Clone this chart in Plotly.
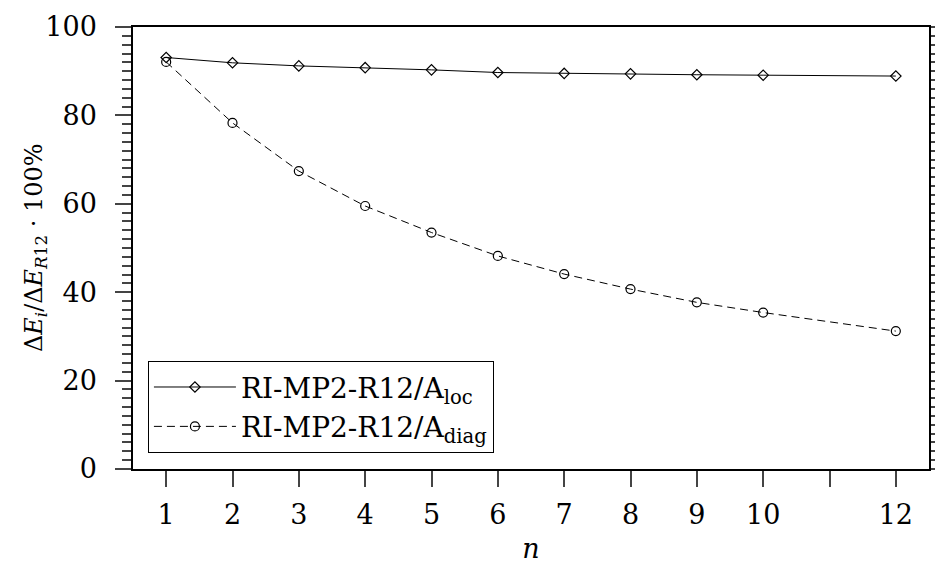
import plotly.graph_objects as go

# Orbital-space size n and recovered correlation energy (percent of RI-MP2-R12)
n_values = [1, 2, 3, 4, 5, 6, 7, 8, 9, 10, 12]
loc_pct = [93.1, 91.9, 91.2, 90.8, 90.3, 89.7, 89.5, 89.4, 89.2, 89.1, 88.9]
diag_pct = [92.1, 78.3, 67.4, 59.5, 53.5, 48.2, 44.1, 40.7, 37.7, 35.4, 31.2]

x_tickvals = [1, 2, 3, 4, 5, 6, 7, 8, 9, 10, 11, 12]
x_ticktext = ["1", "2", "3", "4", "5", "6", "7", "8", "9", "10", "", "12"]
y_tickvals = [0, 20, 40, 60, 80, 100]
y_title = "Δ<i>E</i><sub><i>i</i></sub>/Δ<i>E</i><sub><i>R</i>12</sub> · 100%"

FONT = "DejaVu Serif"
BLACK = "#000000"

fig = go.Figure()

fig.add_trace(go.Scatter(
    x=n_values, y=loc_pct, mode="lines+markers",
    name="RI-MP2-R12/A<sub>loc</sub>",
    line=dict(color=BLACK, width=1),
    marker=dict(symbol="diamond-open", size=8, color=BLACK,
                line=dict(color=BLACK, width=1.2)),
))
fig.add_trace(go.Scatter(
    x=n_values, y=diag_pct, mode="lines+markers",
    name="RI-MP2-R12/A<sub>diag</sub>",
    line=dict(color=BLACK, width=1, dash="8px,5px"),
    marker=dict(symbol="circle-open", size=9, color=BLACK,
                line=dict(color=BLACK, width=1.2)),
))
# carrier trace for the right-hand tick axis
fig.add_trace(go.Scatter(x=[None], y=[None], yaxis="y2", showlegend=False,
                         hoverinfo="skip"))

# rotated y-axis title placed left of the tick labels
fig.add_annotation(
    text=y_title, xref="paper", yref="paper", x=-0.123, y=0.5,
    xanchor="center", yanchor="middle", textangle=-90, showarrow=False,
    font=dict(family=FONT, size=24, color=BLACK),
)

fig.update_layout(
    width=935, height=569,
    margin=dict(l=133, r=6, t=27, b=100, autoexpand=False),
    paper_bgcolor="white", plot_bgcolor="white",
    font=dict(family=FONT, size=27, color=BLACK),
    showlegend=True,
    legend=dict(
        x=0.0185, y=0.036, xanchor="left", yanchor="bottom",
        bgcolor="white", bordercolor=BLACK, borderwidth=1.2,
        font=dict(family=FONT, size=28, color=BLACK),
        itemwidth=82, tracegroupgap=0,
    ),
    xaxis=dict(
        range=[0.5, 12.5], tickmode="array",
        tickvals=x_tickvals, ticktext=x_ticktext,
        ticks="outside", ticklen=16, tickwidth=1.5, tickcolor="#444",
        showline=True, linecolor=BLACK, linewidth=1.5, mirror=True,
        showgrid=False, zeroline=False, automargin=False,
        ticklabelstandoff=5,
        tickfont=dict(family=FONT, size=27),
        title=dict(text="<i>n</i>", font=dict(family=FONT, size=27), standoff=10),
    ),
    yaxis=dict(
        range=[0, 100], tickmode="array", tickvals=y_tickvals,
        ticks="outside", ticklen=16, tickwidth=1.5, tickcolor="#444",
        minor=dict(dtick=2, ticks="outside", ticklen=9, tickwidth=1.5,
                   tickcolor="#444", showgrid=False),
        showline=True, linecolor=BLACK, linewidth=1.5,
        showgrid=False, zeroline=False, automargin=False,
        ticklabelstandoff=13,
        tickfont=dict(family=FONT, size=27),
    ),
    yaxis2=dict(
        range=[0, 100], overlaying="y", side="right", anchor="x",
        tickmode="linear", tick0=0, dtick=2,
        ticks="outside", ticklen=6, tickwidth=1.5, tickcolor="#444",
        showticklabels=False, showline=True, linecolor=BLACK, linewidth=1.5,
        showgrid=False, zeroline=False, automargin=False,
    ),
)

fig.write_html("out.html")
